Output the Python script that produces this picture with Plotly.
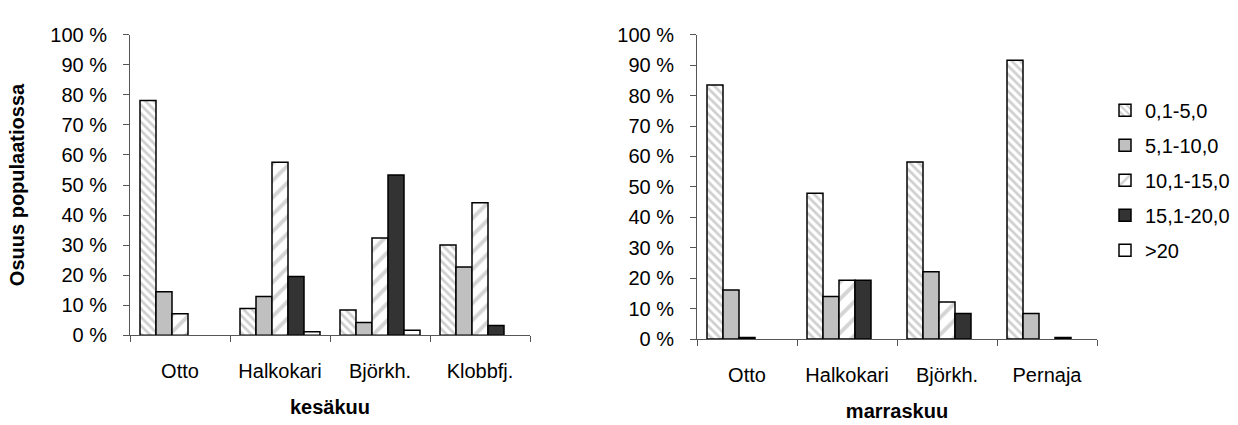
import plotly.graph_objects as go

# Size classes (legend) and sampling sites
classes = ["0,1-5,0", "5,1-10,0", "10,1-15,0", "15,1-20,0", ">20"]
sites_june = ["Otto", "Halkokari", "Björkh.", "Klobbfj."]
sites_nov = ["Otto", "Halkokari", "Björkh.", "Pernaja"]

# Share of population (%) per size class, June (kesäkuu)
june_01_50 = [78.1, 8.9, 8.4, 30.0]
june_51_100 = [14.5, 12.9, 4.3, 22.7]
june_101_150 = [7.2, 57.6, 32.4, 44.1]
june_151_200 = [0.0, 19.6, 53.3, 3.3]
june_over20 = [0.0, 1.2, 1.7, 0.0]

# Share of population (%) per size class, November (marraskuu)
nov_01_50 = [83.5, 47.9, 58.2, 91.6]
nov_51_100 = [16.1, 14.0, 22.1, 8.4]
nov_101_150 = [0.5, 19.3, 12.2, 0.0]
nov_151_200 = [0.0, 19.3, 8.4, 0.5]
nov_over20 = [0.0, 0.0, 0.0, 0.0]

june = [june_01_50, june_51_100, june_101_150, june_151_200, june_over20]
nov = [nov_01_50, nov_51_100, nov_101_150, nov_151_200, nov_over20]

y_ticks = list(range(0, 101, 10))
y_labels = [f"{v} %" for v in y_ticks]

FONT = "Liberation Sans, Arial, sans-serif"
FS = 20

styles = [
    dict(color="white", pattern=dict(shape="\\", fgcolor="#a0a0a0", bgcolor="white",
                                     size=6, solidity=0.45)),
    dict(color="#c0c0c0"),
    dict(color="white", pattern=dict(shape="/", fgcolor="#aaaaaa", bgcolor="white",
                                     size=12, solidity=0.33)),
    dict(color="#333333"),
    dict(color="white"),
]


def shown(values):
    # empty classes get no bar at all
    return [v if v > 0 else None for v in values]


fig = go.Figure()
for i, name in enumerate(classes):
    for data, sites, xa, ya, show in ((june, sites_june, "x", "y", True),
                                      (nov, sites_nov, "x2", "y2", False)):
        marker = dict(styles[i])
        marker["line"] = dict(color="black", width=1.5)
        fig.add_trace(go.Bar(
            x=sites, y=shown(data[i]), name=name, marker=marker,
            xaxis=xa, yaxis=ya, legendgroup=name, showlegend=show,
        ))

axis_common = dict(
    showline=True, linecolor="#555555", linewidth=1,
    ticks="outside", tickcolor="#555555", ticklen=6,
    showgrid=False, zeroline=False,
    tickfont=dict(family=FONT, size=FS, color="black"),
)

fig.update_layout(
    width=1238, height=425,
    margin=dict(l=0, r=0, t=0, b=0),
    paper_bgcolor="white", plot_bgcolor="white",
    barmode="group", bargap=0.2, bargroupgap=0,
    font=dict(family=FONT, size=FS, color="black"),
    xaxis=dict(domain=[130 / 1238, 530 / 1238], tickson="boundaries",
               title=dict(text="<b>kesäkuu</b>", standoff=18,
                          font=dict(family=FONT, size=FS)),
               ticklabelstandoff=18, **axis_common),
    xaxis2=dict(domain=[697 / 1238, 1097 / 1238], tickson="boundaries",
                title=dict(text="<b>marraskuu</b>", standoff=18,
                           font=dict(family=FONT, size=FS)),
                ticklabelstandoff=18, anchor="y2", **axis_common),
    yaxis=dict(domain=[(425 - 342) / 425, (425 - 25) / 425], range=[0, 100],
               tickmode="array", tickvals=y_ticks, ticktext=y_labels,
               title=dict(text="<b>Osuus populaatiossa</b>", standoff=20,
                          font=dict(family=FONT, size=FS)),
               ticklabelstandoff=12, **axis_common),
    yaxis2=dict(domain=[(425 - 346) / 425, (425 - 25) / 425], range=[0, 100],
                tickmode="array", tickvals=y_ticks, ticktext=y_labels, anchor="x2",
                ticklabelstandoff=12, **axis_common),
    legend=dict(x=1105 / 1238, xanchor="left", y=1 - 84 / 425, yanchor="top",
                tracegroupgap=6, font=dict(family=FONT, size=FS),
                bgcolor="rgba(0,0,0,0)"),
)

fig.write_html("out.html")
